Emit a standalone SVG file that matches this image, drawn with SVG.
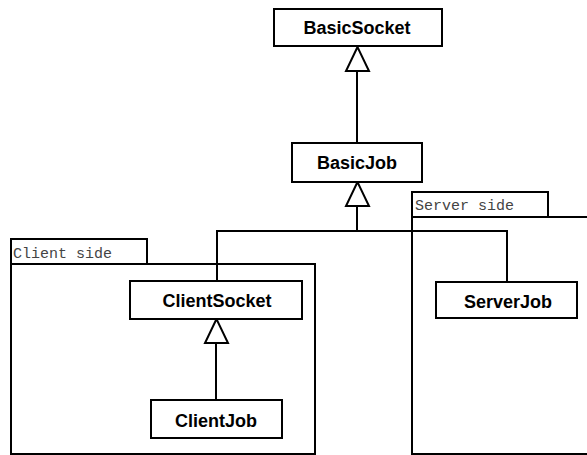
<svg xmlns="http://www.w3.org/2000/svg" width="587" height="455" viewBox="0 0 587 455">
  <style>
    .box { fill: #fff; stroke: #000; stroke-width: 2; }
    .pkg { fill: none; stroke: #000; stroke-width: 2; }
    .name { font-family: "Liberation Sans", Arial, sans-serif; font-weight: bold; font-size: 18px; text-anchor: middle; fill: #000; }
    .pkgname { font-family: "Liberation Mono", "Courier New", monospace; font-size: 15px; fill: #444; }
    .edge { fill: none; stroke: #000; stroke-width: 2; }
    .tri { fill: #fff; stroke: #000; stroke-width: 2; stroke-linejoin: miter; }
  </style>
  <rect width="587" height="455" fill="#fff"/>

  <!-- packages -->
  <g id="pkg-client">
    <rect class="pkg" x="11" y="239" width="136" height="25"/>
    <rect class="pkg" x="11" y="264" width="304" height="190"/>
    <text class="pkgname" x="13" y="258">Client side</text>
  </g>
  <g id="pkg-server">
    <rect class="pkg" x="412" y="192" width="136" height="25"/>
    <path class="pkg" d="M412,217 V454 H590 M412,217 H590"/>
    <text class="pkgname" x="415" y="210">Server side</text>
  </g>

  <!-- connectors -->
  <g id="connectors">
    <path class="edge" d="M357,143 V71"/>
    <polygon class="tri" points="357.5,47 346,71 369,71"/>
    <path class="edge" d="M217,281 V231 H507 V282 M357,231 V206"/>
    <polygon class="tri" points="357.5,182 346,206 369,206"/>
    <path class="edge" d="M216,400 V343"/>
    <polygon class="tri" points="216.5,319 205,343 228,343"/>
  </g>

  <!-- classes -->
  <g id="BasicSocket">
    <rect class="box" x="274" y="9" width="168" height="37"/>
    <text class="name" x="357" y="34">BasicSocket</text>
  </g>
  <g id="BasicJob">
    <rect class="box" x="292" y="143" width="130" height="39"/>
    <text class="name" x="357" y="169">BasicJob</text>
  </g>
  <g id="ClientSocket">
    <rect class="box" x="130" y="281" width="172" height="38"/>
    <text class="name" x="217" y="307">ClientSocket</text>
  </g>
  <g id="ClientJob">
    <rect class="box" x="151" y="400" width="131" height="38"/>
    <text class="name" x="216" y="427">ClientJob</text>
  </g>
  <g id="ServerJob">
    <rect class="box" x="436" y="282" width="141" height="36"/>
    <text class="name" x="508" y="308">ServerJob</text>
  </g>
</svg>
